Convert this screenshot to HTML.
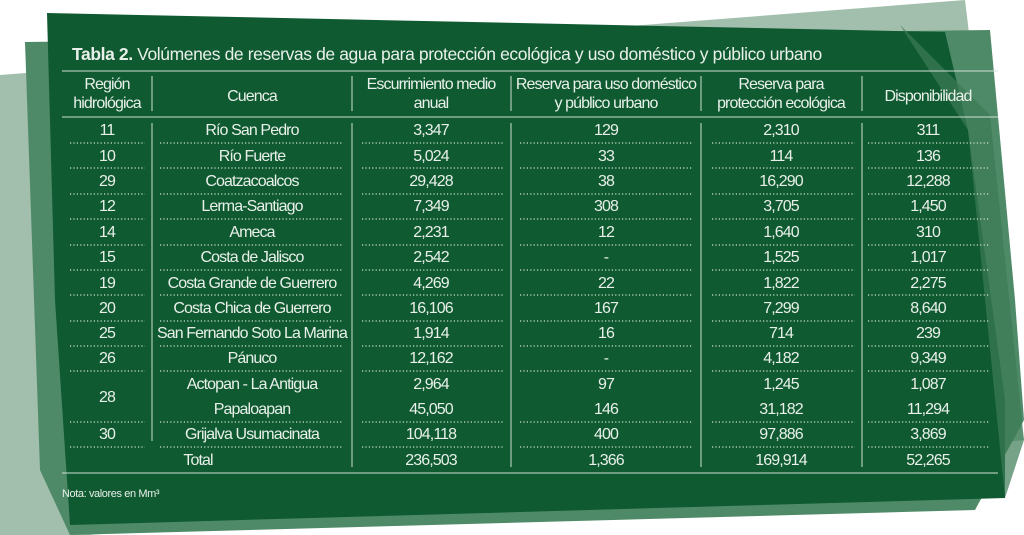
<!DOCTYPE html>
<html><head><meta charset="utf-8"><style>
html,body{margin:0;padding:0;background:#fff;}
svg{display:block;}
text{font-family:"Liberation Sans",sans-serif;fill:#e9f0ea;font-size:16px;letter-spacing:-0.9px;text-anchor:middle;}
.d{stroke:#cfe0d4;stroke-width:1.2;stroke-dasharray:1.2 2.2;}
.v{stroke:#cfe0d4;stroke-width:1;}
</style></head><body>
<svg width="1024" height="535" viewBox="0 0 1024 535">
<polygon points="0,75 965,0 1005,330 1024,440 90,535 0,535" fill="#a2bfad"/>
<polygon points="25,42 990,30 1015,300 1024,420 975,510 70,535 40,470" fill="#4f8a68"/>
<polygon points="47,13 945,32 968,130 1005,400 1005,498 70,525 55,300" fill="#0f5a31"/>
<polygon points="900,25 990,115 1024,440 1005,498 968,130" fill="#3c7a56" opacity="0.7"/>
<text x="72" y="60" style="text-anchor:start;font-size:17.5px;letter-spacing:-0.4px"><tspan font-weight="bold">Tabla 2.</tspan> Volúmenes de reservas de agua para protección ecológica y uso doméstico y público urbano</text>
<line x1="62" y1="71" x2="998" y2="71" class="v" stroke-width="1.5"/>
<line x1="62" y1="117" x2="998" y2="117" class="v" stroke-width="1.5"/>
<line x1="62" y1="473" x2="998" y2="473" class="v" stroke-width="1.5"/>
<g class="v">
<line x1="152" y1="76" x2="152" y2="111"/><line x1="352" y1="76" x2="352" y2="111"/><line x1="511" y1="76" x2="511" y2="111"/><line x1="701" y1="76" x2="701" y2="111"/><line x1="862" y1="76" x2="862" y2="111"/>
<line x1="152" y1="123" x2="152" y2="441"/><line x1="352" y1="123" x2="352" y2="467"/><line x1="511" y1="123" x2="511" y2="467"/><line x1="701" y1="123" x2="701" y2="467"/><line x1="862" y1="123" x2="862" y2="467"/>
</g>
<text x="107" y="89">Región</text><text x="107" y="108">hidrológica</text>
<text x="252" y="101">Cuenca</text>
<text x="431" y="89">Escurrimiento medio</text><text x="431" y="108">anual</text>
<text x="606" y="89">Reserva para uso doméstico</text><text x="606" y="108">y público urbano</text>
<text x="781" y="89">Reserva para</text><text x="781" y="108">protección ecológica</text>
<text x="928" y="101">Disponibilidad</text>
<g>
<text x="107" y="135">11</text><text x="252" y="135">Río San Pedro</text><text x="431" y="135">3,347</text><text x="606" y="135">129</text><text x="781" y="135">2,310</text><text x="928" y="135">311</text>
<text x="107" y="161">10</text><text x="252" y="161">Río Fuerte</text><text x="431" y="161">5,024</text><text x="606" y="161">33</text><text x="781" y="161">114</text><text x="928" y="161">136</text>
<text x="107" y="186">29</text><text x="252" y="186">Coatzacoalcos</text><text x="431" y="186">29,428</text><text x="606" y="186">38</text><text x="781" y="186">16,290</text><text x="928" y="186">12,288</text>
<text x="107" y="211">12</text><text x="252" y="211">Lerma-Santiago</text><text x="431" y="211">7,349</text><text x="606" y="211">308</text><text x="781" y="211">3,705</text><text x="928" y="211">1,450</text>
<text x="107" y="237">14</text><text x="252" y="237">Ameca</text><text x="431" y="237">2,231</text><text x="606" y="237">12</text><text x="781" y="237">1,640</text><text x="928" y="237">310</text>
<text x="107" y="262">15</text><text x="252" y="262">Costa de Jalisco</text><text x="431" y="262">2,542</text><text x="606" y="262">-</text><text x="781" y="262">1,525</text><text x="928" y="262">1,017</text>
<text x="107" y="288">19</text><text x="252" y="288">Costa Grande de Guerrero</text><text x="431" y="288">4,269</text><text x="606" y="288">22</text><text x="781" y="288">1,822</text><text x="928" y="288">2,275</text>
<text x="107" y="313">20</text><text x="252" y="313">Costa Chica de Guerrero</text><text x="431" y="313">16,106</text><text x="606" y="313">167</text><text x="781" y="313">7,299</text><text x="928" y="313">8,640</text>
<text x="107" y="338">25</text><text x="252" y="338">San Fernando Soto La Marina</text><text x="431" y="338">1,914</text><text x="606" y="338">16</text><text x="781" y="338">714</text><text x="928" y="338">239</text>
<text x="107" y="363">26</text><text x="252" y="363">Pánuco</text><text x="431" y="363">12,162</text><text x="606" y="363">-</text><text x="781" y="363">4,182</text><text x="928" y="363">9,349</text>
<text x="107" y="402">28</text><text x="252" y="389">Actopan - La Antigua</text><text x="431" y="389">2,964</text><text x="606" y="389">97</text><text x="781" y="389">1,245</text><text x="928" y="389">1,087</text>
<text x="252" y="414">Papaloapan</text><text x="431" y="414">45,050</text><text x="606" y="414">146</text><text x="781" y="414">31,182</text><text x="928" y="414">11,294</text>
<text x="107" y="439">30</text><text x="252" y="439">Grijalva Usumacinata</text><text x="431" y="439">104,118</text><text x="606" y="439">400</text><text x="781" y="439">97,886</text><text x="928" y="439">3,869</text>
<text x="198" y="465">Total</text><text x="431" y="465">236,503</text><text x="606" y="465">1,366</text><text x="781" y="465">169,914</text><text x="928" y="465">52,265</text>
</g>
<g class="d">
<path d="M70 143H145M160 143H342M362 143H503M520 143H692M712 143H855M868 143H990"/>
<path d="M70 168H145M160 168H342M362 168H503M520 168H692M712 168H855M868 168H990"/>
<path d="M70 194H145M160 194H342M362 194H503M520 194H692M712 194H855M868 194H990"/>
<path d="M70 219H145M160 219H342M362 219H503M520 219H692M712 219H855M868 219H990"/>
<path d="M70 245H145M160 245H342M362 245H503M520 245H692M712 245H855M868 245H990"/>
<path d="M70 270H145M160 270H342M362 270H503M520 270H692M712 270H855M868 270H990"/>
<path d="M70 295H145M160 295H342M362 295H503M520 295H692M712 295H855M868 295H990"/>
<path d="M70 321H145M160 321H342M362 321H503M520 321H692M712 321H855M868 321H990"/>
<path d="M70 346H145M160 346H342M362 346H503M520 346H692M712 346H855M868 346H990"/>
<path d="M70 371H145M160 371H342M362 371H503M520 371H692M712 371H855M868 371H990"/>
<path d="M70 422H145M160 422H342M362 422H503M520 422H692M712 422H855M868 422H990"/>
<path d="M70 447H145M160 447H342M362 447H503M520 447H692M712 447H855M868 447H990"/>
</g>
<text x="62" y="497" style="text-anchor:start;font-size:11px;letter-spacing:-0.4px">Nota: valores en Mm³</text>
</svg>
</body></html>
